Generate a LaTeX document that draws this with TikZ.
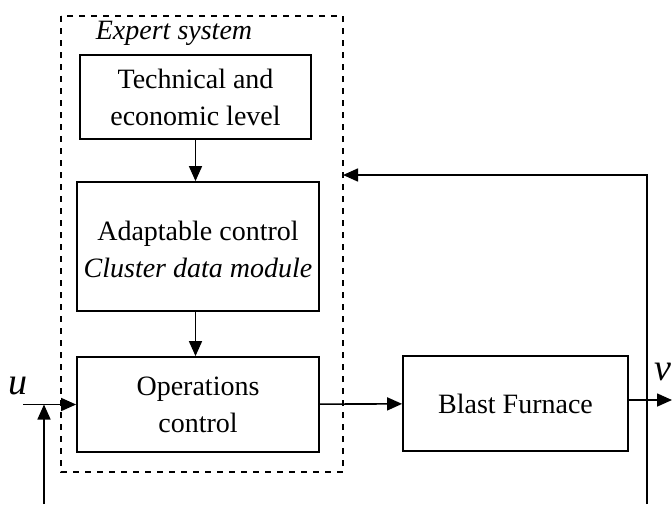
\documentclass[tikz,border=0pt]{standalone}
\usepackage{fontspec}
\setmainfont{Liberation Serif}
\usetikzlibrary{arrows.meta}

\tikzset{
 block/.style={draw, line width=0.9pt, align=center, inner sep=0pt},
 link/.style={line width=0.8pt, -{Triangle[length=7.5pt,width=6.5pt]}}
}

\begin{document}
\begin{tikzpicture}[x=0.5pt,y=-0.5pt,font=\fontsize{14}{18.5}\selectfont]
 \useasboundingbox (0,0) rectangle (672,504);
 \draw[dashed, line width=0.8pt] (61,16) rectangle (343,472);
 \node[font=\fontsize{14}{18.5}\selectfont\itshape] (title) at (174,33) {Expert system};
 \node[block, minimum width=115.5pt, minimum height=42pt] (tech) at (195.5,97) {Technical and\\economic level};
 \node[block, minimum width=121pt, minimum height=64.5pt] (adapt) at (198,246.5) {\strut Adaptable control\\\textit{Cluster data module}};
 \node[block, minimum width=121pt, minimum height=47.5pt] (oper) at (198,404.5) {Operations\\control};
 \node[block, minimum width=112.5pt, minimum height=47.5pt] (furnace) at (515.5,403.5) {Blast Furnace};
 \node[font=\fontsize{19}{22}\selectfont\itshape] (u) at (18,386) {u};
 \node[font=\fontsize{19}{22}\selectfont\itshape] (v) at (663,372) {v};
 \coordinate (uin) at (23,404.5);
 \coordinate (vout) at (672,400);
 \coordinate (fbot) at (647,504);
 \coordinate (ftop) at (647,175);
 \coordinate (fend) at (343,175);
 \coordinate (lbot) at (44,504);
 \coordinate (lin) at (44,404.5);
 \draw[link] (tech.south) -- (tech.south |- adapt.north);
 \draw[link] (tech.south |- adapt.south) -- (tech.south |- oper.north);
 \draw[link] (uin) -- (oper);
 \draw[link] (lbot) -- (lin);
 \draw[link] (oper) -- (furnace);
 \draw[link] (furnace.east |- vout) -- (vout);
 \draw[link] (fbot) -- (ftop) -- (fend);
\end{tikzpicture}
\end{document}
